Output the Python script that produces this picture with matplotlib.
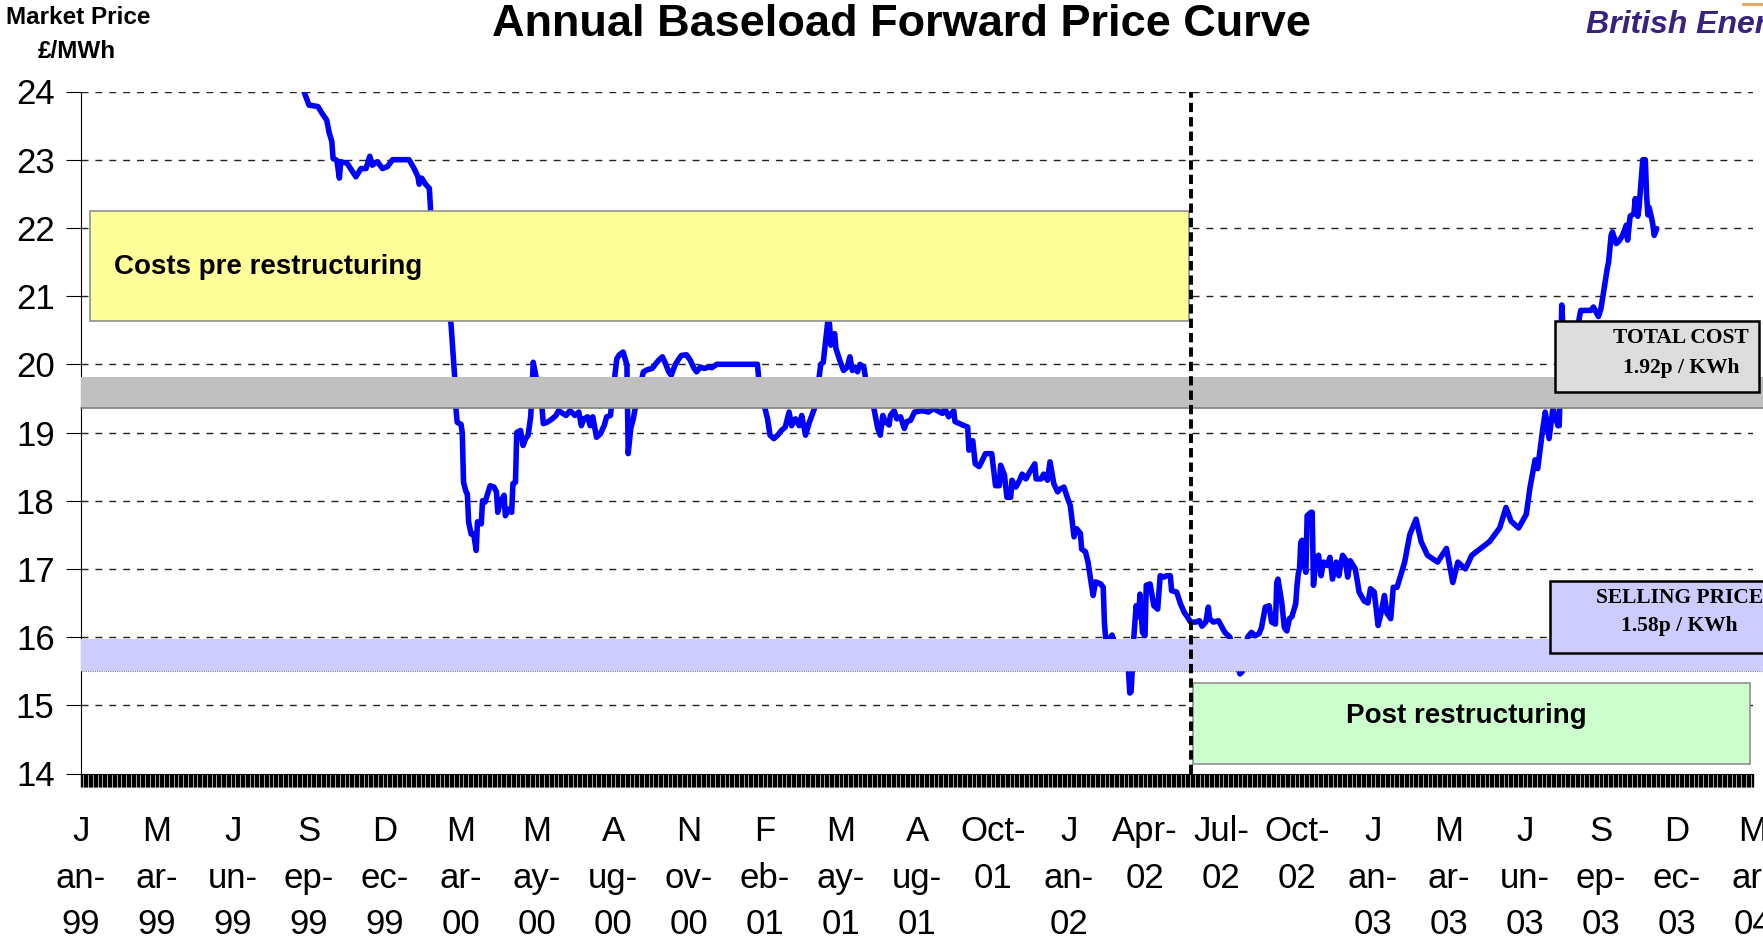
import matplotlib
matplotlib.use('Agg')
import matplotlib.pyplot as plt
from matplotlib.patches import Rectangle
import numpy as np

plt.rcParams['font.family'] = ['Liberation Sans', 'DejaVu Sans']

# trading-day index (60 trading days between axis labels) and forward price, £/MWh
days = [176, 180, 187, 191, 194, 196, 198, 199, 202, 204, 205, 210, 217, 221, 225, 228, 230, 234, 238, 242,
        246, 259, 263, 266, 267, 269, 272, 275, 276, 283, 292, 295, 296, 297, 300, 301, 302, 304, 305, 306,
        308, 310, 312, 313, 316, 317, 319, 321, 323, 326, 328, 329, 331, 334, 335, 338, 340, 341, 343, 344,
        347, 349, 351, 353, 355, 356, 357, 359, 364, 365, 368, 372, 375, 377, 383, 386, 390, 393, 395, 397,
        400, 402, 404, 407, 410, 413, 415, 418, 420, 423, 425, 428, 431, 432, 434, 436, 438, 444, 447, 451,
        453, 456, 459, 461, 464, 466, 469, 472, 474, 478, 481, 484, 486, 489, 492, 496, 498, 502, 534, 535,
        540, 542, 544, 547, 550, 553, 556, 559, 561, 564, 567, 569, 572, 575, 577, 580, 584, 586, 589, 590,
        591, 592, 595, 596, 599, 602, 605, 607, 609, 611, 613, 615, 618, 619, 622, 626, 629, 631, 633, 635,
        638, 639, 642, 644, 647, 650, 652, 655, 658, 664, 669, 673, 676, 680, 682, 685, 689, 690, 696, 700,
        701, 704, 706, 709, 711, 714, 719, 722, 725, 726, 729, 731, 734, 735, 738, 741, 743, 746, 749, 753,
        754, 758, 760, 763, 765, 768, 771, 773, 776, 779, 781, 782, 784, 786, 789, 790, 793, 795, 797, 799,
        801, 805, 807, 808, 809, 811, 814, 816, 820, 824, 826, 828, 829, 830, 831, 833, 835, 836, 838, 840,
        841, 844, 847, 850, 852, 855, 857, 860, 861, 865, 868, 871, 873, 876, 880, 883, 885, 888, 890, 891,
        894, 898, 901, 903, 907, 911, 915, 917, 921, 924, 927, 930, 932, 935, 938, 940, 943, 944, 945, 948,
        950, 952, 954, 956, 959, 960, 961, 962, 963, 964, 965, 967, 968, 971, 972, 973, 975, 977, 979, 981,
        984, 986, 988, 991, 992, 993, 996, 998, 1000, 1002, 1006, 1008, 1009, 1013, 1016, 1018, 1021, 1024, 1026, 1029,
        1031, 1034, 1036, 1039, 1045, 1049, 1054, 1058, 1063, 1071, 1078, 1083, 1087, 1093, 1098, 1105, 1112, 1116, 1120, 1125,
        1129, 1135, 1141, 1144, 1148, 1150, 1152, 1154, 1156, 1159, 1162, 1166, 1167, 1168, 1169, 1171, 1176, 1181, 1184, 1186,
        1192, 1194, 1198, 1200, 1202, 1204, 1205, 1206, 1208, 1209, 1212, 1214, 1217, 1220, 1221, 1223, 1226, 1227, 1229, 1230,
        1232, 1233, 1235, 1236, 1237, 1238, 1240, 1241, 1242, 1244]
price = [24.00, 23.80, 23.78, 23.66, 23.58, 23.39, 23.27, 23.02, 22.99, 22.73, 22.97, 22.95, 22.75, 22.87, 22.87, 23.05, 22.92, 22.97, 22.87, 22.90,
         23.00, 23.00, 22.87, 22.75, 22.64, 22.73, 22.64, 22.58, 22.26, 21.20, 20.62, 19.82, 19.35, 19.15, 19.12, 19.00, 18.27, 18.13, 18.10, 17.69,
         17.51, 17.51, 17.27, 17.69, 17.66, 18.00, 17.98, 18.10, 18.22, 18.20, 18.13, 17.83, 17.98, 18.08, 17.78, 17.88, 17.83, 18.25, 18.27, 19.00,
         19.03, 18.81, 18.91, 18.96, 19.23, 19.55, 20.03, 19.84, 19.35, 19.13, 19.15, 19.20, 19.25, 19.32, 19.25, 19.32, 19.25, 19.30, 19.10, 19.20,
         19.23, 19.10, 19.23, 18.93, 18.98, 19.10, 19.23, 19.25, 19.60, 20.08, 20.14, 20.18, 19.99, 18.69, 19.06, 19.20, 19.40, 19.89, 19.92, 19.94,
         19.99, 20.06, 20.11, 20.03, 19.89, 19.84, 19.99, 20.08, 20.13, 20.14, 20.06, 19.94, 19.89, 19.96, 19.94, 19.96, 19.95, 20.00, 20.00, 19.80,
         19.35, 19.20, 18.96, 18.91, 18.96, 19.03, 19.08, 19.30, 19.10, 19.20, 19.10, 19.25, 18.96, 19.15, 19.25, 19.40, 20.00, 20.03, 20.53, 20.70,
         20.57, 20.28, 20.45, 20.23, 20.06, 19.91, 19.96, 20.11, 19.91, 19.96, 19.89, 20.00, 19.96, 19.84, 19.50, 19.35, 19.06, 18.96, 19.25, 19.16,
         19.11, 19.25, 19.32, 19.20, 19.23, 19.06, 19.16, 19.18, 19.30, 19.32, 19.30, 19.35, 19.32, 19.28, 19.35, 19.23, 19.32, 19.16, 19.11, 19.08,
         18.74, 18.88, 18.54, 18.50, 18.57, 18.69, 18.69, 18.22, 18.22, 18.52, 18.38, 18.05, 18.05, 18.30, 18.20, 18.30, 18.39, 18.32, 18.42, 18.54,
         18.32, 18.32, 18.39, 18.30, 18.57, 18.25, 18.13, 18.17, 18.20, 18.03, 17.93, 17.78, 17.47, 17.59, 17.52, 17.29, 17.25, 17.10, 16.85, 16.61,
         16.81, 16.78, 16.73, 16.20, 15.97, 15.95, 16.03, 15.90, 15.70, 15.85, 15.80, 15.18, 15.20, 15.55, 15.95, 16.46, 16.30, 16.63, 16.07, 16.02,
         16.76, 16.78, 16.46, 16.41, 16.90, 16.88, 16.90, 16.90, 16.68, 16.66, 16.49, 16.36, 16.31, 16.22, 16.22, 16.24, 16.16, 16.22, 16.44, 16.27,
         16.22, 16.24, 16.14, 16.07, 16.00, 15.70, 15.46, 15.50, 16.00, 16.07, 16.02, 16.05, 16.14, 16.44, 16.46, 16.22, 16.19, 16.80, 16.85, 16.50,
         16.14, 16.09, 16.27, 16.30, 16.49, 16.75, 16.93, 17.00, 17.39, 17.42, 17.15, 16.95, 17.78, 17.83, 17.83, 16.76, 17.15, 17.20, 16.90, 17.10,
         17.05, 17.17, 16.85, 17.10, 17.05, 16.90, 17.20, 17.15, 16.88, 17.12, 17.00, 16.78, 16.66, 16.53, 16.50, 16.71, 16.66, 16.17, 16.32, 16.61,
         16.35, 16.27, 16.73, 16.73, 17.10, 17.50, 17.73, 17.40, 17.20, 17.10, 17.30, 16.80, 17.10, 17.00, 17.20, 17.30, 17.40, 17.50, 17.60, 17.90,
         17.70, 17.60, 17.80, 18.20, 18.60, 18.47, 18.76, 19.05, 19.30, 18.91, 19.35, 19.10, 19.10, 19.80, 20.87, 20.20, 20.30, 20.50, 20.79, 20.79,
         20.79, 20.84, 20.70, 20.82, 21.06, 21.31, 21.41, 21.50, 21.89, 21.94, 21.77, 21.80, 21.89, 22.04, 21.82, 22.17, 22.21, 22.43, 22.17, 22.29,
         22.75, 23.00, 23.00, 22.48, 22.19, 22.30, 22.14, 22.04, 21.89, 21.99]

tick_labels = ['J\nan-\n99', 'M\nar-\n99', 'J\nun-\n99', 'S\nep-\n99', 'D\nec-\n99', 'M\nar-\n00',
               'M\nay-\n00', 'A\nug-\n00', 'N\nov-\n00', 'F\neb-\n01', 'M\nay-\n01', 'A\nug-\n01',
               'Oct-\n01', 'J\nan-\n02', 'Apr-\n02', 'Jul-\n02', 'Oct-\n02', 'J\nan-\n03', 'M\nar-\n03',
               'J\nun-\n03', 'S\nep-\n03', 'D\nec-\n03', 'M\nar-\n04']
days_per_label = 60
n_days = days_per_label * (len(tick_labels) - 1)
restructure_day = 876

total_cost_band = (19.36, 19.82)
selling_band = (15.51, 15.97)

fig = plt.figure(figsize=(17.63, 9.41), dpi=100)
ax = fig.add_axes([81 / 1763, 167.5 / 941, 1672 / 1763, 682 / 941])

ax.plot(days, price, color='#0000FF', lw=4.0, solid_joinstyle='round', solid_capstyle='round', zorder=2)

ax.set_xlim(0, n_days)
ax.set_ylim(14, 24)
ax.set_yticks(np.arange(14, 25, 1))
ax.set_yticklabels([str(v) for v in range(14, 25)])
ax.set_xticks(np.arange(0, n_days + 1, days_per_label))
ax.set_xticklabels(tick_labels, fontsize=25, linespacing=1.52)
ax.set_xticks(np.arange(0, n_days + 1), minor=True)

ax.tick_params(axis='y', labelsize=25, length=11, width=0.8, pad=8)
ax.tick_params(axis='x', which='major', length=9, width=1.0, pad=21)
ax.tick_params(axis='x', which='minor', length=9, width=1.0)
for s in ['top', 'right']:
    ax.spines[s].set_visible(False)
ax.spines['left'].set_linewidth(0.8)
ax.spines['bottom'].set_linewidth(0.8)

for v in range(15, 25):
    ax.axhline(v, color='#222222', lw=1.0, ls=(0, (5, 5)), zorder=1)

# dashed divider between the two periods
ax.plot([restructure_day, restructure_day], [14, 24], color='k', lw=2.8, ls=(0, (2.4, 1.3)), zorder=4)

# bands and boxes sit on top of the curve
ax.add_patch(Rectangle((0, total_cost_band[0]), 1335, total_cost_band[1] - total_cost_band[0],
                       facecolor='#C0C0C0', edgecolor='none', clip_on=False, zorder=3))
ax.plot([0, 1335], [total_cost_band[0]] * 2, color='#808080', lw=1.2, clip_on=False, zorder=3)
ax.add_patch(Rectangle((0, selling_band[0]), 1335, selling_band[1] - selling_band[0],
                       facecolor='#CCCCFF', edgecolor='none', clip_on=False, zorder=3))
ax.plot([0, 1335], [selling_band[0]] * 2, color='#808080', lw=0.8, ls=(0, (1, 1)), clip_on=False, zorder=3)

ax.add_patch(Rectangle((7, 20.63), 868, 1.62, facecolor='#FFFF99', edgecolor='#909090', lw=1.2, zorder=3))
ax.text(26, 21.42, 'Costs pre restructuring', fontsize=20, fontweight='bold', va='center', ha='left', zorder=4)

ax.add_patch(Rectangle((878, 14.14), 440, 1.18, facecolor='#CCFFCC', edgecolor='#909090', lw=1.2, zorder=3))
ax.text(1094, 14.84, 'Post restructuring', fontsize=20, fontweight='bold', va='center', ha='center', zorder=4)

ax.add_patch(Rectangle((1164, 19.60), 161, 1.03, facecolor='#DDDDDD', edgecolor='k', lw=1.8,
                       clip_on=False, zorder=5))
ax.text(1263, 20.38, 'TOTAL COST', family='Liberation Serif', fontsize=15.5, fontweight='bold',
        ha='center', va='center', zorder=6, clip_on=False)
ax.text(1263, 19.94, '1.92p / KWh', family='Liberation Serif', fontsize=15.5, fontweight='bold',
        ha='center', va='center', zorder=6, clip_on=False)

ax.add_patch(Rectangle((1160, 15.77), 170, 1.05, facecolor='#CCCCFF', edgecolor='k', lw=1.8,
                       clip_on=False, zorder=5))
ax.text(1262, 16.57, 'SELLING PRICE', family='Liberation Serif', fontsize=15.5, fontweight='bold',
        ha='center', va='center', zorder=6, clip_on=False)
ax.text(1262, 16.17, '1.58p / KWh', family='Liberation Serif', fontsize=15.5, fontweight='bold',
        ha='center', va='center', zorder=6, clip_on=False)

fig.text(0.5115, 1 - 25 / 941, 'Annual Baseload Forward Price Curve', fontsize=32.5, fontweight='bold',
         ha='center', va='center')
fig.text(78 / 1763, 1 - 18 / 941, 'Market Price', fontsize=17.5, fontweight='bold', ha='center', va='center')
fig.text(77 / 1763, 1 - 51 / 941, '£/MWh', fontsize=17.5, fontweight='bold', ha='center', va='center')
fig.text(1586 / 1763, 1 - 25 / 941, 'British Energy', fontsize=23, fontweight='bold', style='italic',
         color='#3A2180', ha='left', va='center')
fig.add_artist(plt.Line2D([1743 / 1763, 1], [1 - 3.5 / 941] * 2, color='#E8A060', lw=2))

fig.savefig('out.png', dpi=100)
